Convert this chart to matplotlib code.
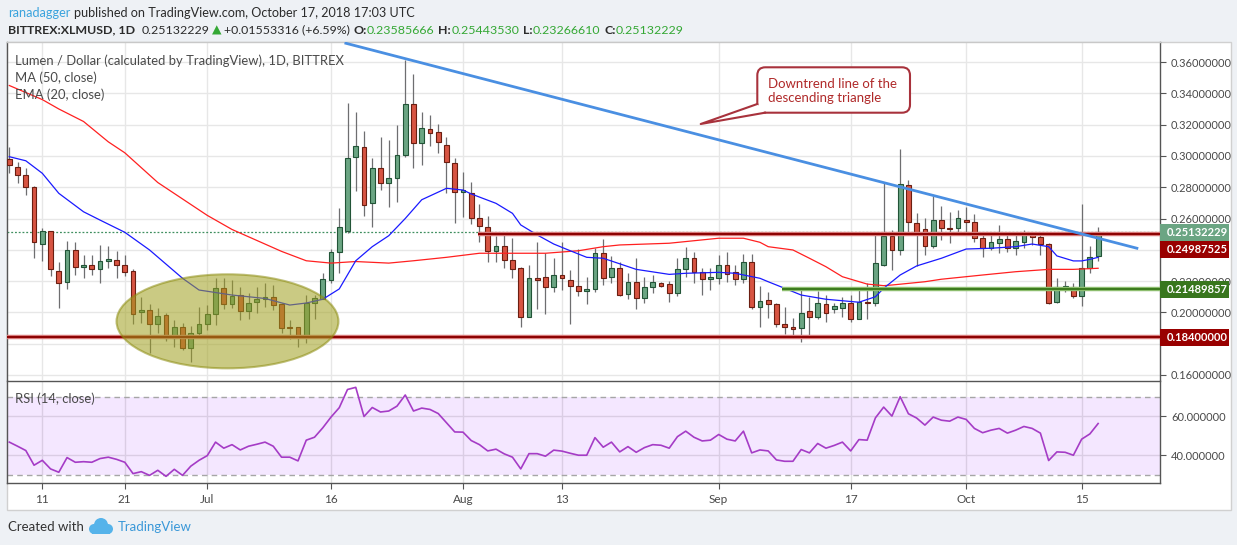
import matplotlib
matplotlib.use("Agg")
import matplotlib.pyplot as plt
import matplotlib.patches as mpatches
import matplotlib.transforms as mtransforms
import numpy as np

plt.rcParams["font.family"] = ["Lato", "DejaVu Sans"]

W, H = 1237, 545

# daily XLM/USD candles, 2018-06-07 .. 2018-10-17 (index 0 = Jun 7)
opens = [
    0.298, 0.293, 0.288, 0.280, 0.2435, 0.252, 0.2267, 0.2193, 0.240, 0.229,
    0.230, 0.228, 0.2327, 0.2333, 0.230, 0.2263, 0.2005, 0.2013, 0.1928, 0.1981,
    0.1834, 0.1905, 0.1771, 0.1867,
    0.1924, 0.1988, 0.2154, 0.2052, 0.2113, 0.2009, 0.2065, 0.2084, 0.210, 0.2052,
    0.1907, 0.1907, 0.1841, 0.2058, 0.2084, 0.2207, 0.2389, 0.2522, 0.2991, 0.3055,
    0.2697, 0.292, 0.283, 0.2857, 0.3004, 0.3332, 0.308, 0.317, 0.3151, 0.3068, 0.2953,
    0.2771, 0.2761, 0.2601, 0.2548, 0.2394, 0.2426, 0.2333, 0.2282, 0.1973, 0.222,
    0.2224, 0.216, 0.2237, 0.2207, 0.2171, 0.2139, 0.2148, 0.2378, 0.2224, 0.2282,
    0.2116, 0.2192, 0.209, 0.216, 0.2186, 0.2179, 0.2122, 0.2275, 0.2346, 0.2258, 0.2215,
    0.2218, 0.2303, 0.2258, 0.2211, 0.232, 0.2033, 0.2077, 0.2052, 0.1924, 0.1905,
    0.1898, 0.2007, 0.1969, 0.2052, 0.2021, 0.2026, 0.2058, 0.1956, 0.2068, 0.2058,
    0.2303, 0.2488, 0.2396, 0.2814, 0.257, 0.2531, 0.2426, 0.259, 0.2541, 0.2537,
    0.259, 0.2576, 0.2474, 0.2414, 0.2445, 0.2467, 0.241, 0.2448, 0.2501, 0.248,
    0.2435, 0.2065, 0.2156, 0.2164, 0.2107, 0.2282, 0.23585666,
]
highs = [
    0.306, 0.296, 0.292, 0.281, 0.254, 0.252, 0.232, 0.2456, 0.245, 0.2367,
    0.2367, 0.243, 0.2425, 0.239, 0.237, 0.228, 0.2098, 0.2056, 0.2027, 0.1998,
    0.195, 0.193, 0.1913, 0.2037,
    0.2047, 0.2218, 0.222, 0.2207, 0.2164, 0.2122, 0.2164, 0.219, 0.2175, 0.2058,
    0.1952, 0.1907, 0.2111, 0.2111, 0.225, 0.2405, 0.2665, 0.3336, 0.3283, 0.316,
    0.2985, 0.3123, 0.310, 0.320, 0.361, 0.3523, 0.328, 0.3261, 0.3204, 0.3119, 0.2985,
    0.2895, 0.2831, 0.2691, 0.2618, 0.2489, 0.2499, 0.2473, 0.2292, 0.2303, 0.2452,
    0.2378, 0.2346, 0.245, 0.2271, 0.2403, 0.2228, 0.241, 0.2469, 0.236, 0.2324,
    0.2254, 0.2346, 0.2228, 0.2237, 0.2196, 0.2203, 0.2346, 0.242, 0.2388, 0.2286, 0.2286,
    0.2367, 0.2384, 0.2303, 0.2373, 0.2373, 0.2169, 0.2132, 0.2062, 0.2033, 0.1962,
    0.2148, 0.21, 0.2137, 0.2111, 0.2062, 0.2097, 0.2111, 0.2151, 0.2186, 0.2495,
    0.2825, 0.2527, 0.3044, 0.2846, 0.2637, 0.2601, 0.2744, 0.268, 0.2644, 0.2655,
    0.2676, 0.2627, 0.2505, 0.2505, 0.2559, 0.2505, 0.2499, 0.2527, 0.2516, 0.2499,
    0.2441, 0.2218, 0.22, 0.219, 0.2693, 0.2424, 0.2544353,
]
lows = [
    0.289, 0.283, 0.275, 0.235, 0.233, 0.223, 0.203, 0.215, 0.224, 0.222,
    0.2236, 0.219, 0.2286, 0.222, 0.2235, 0.1928, 0.1934, 0.1743, 0.1867, 0.1817,
    0.178, 0.176, 0.168, 0.185,
    0.1888, 0.192, 0.202, 0.2026, 0.1952, 0.1956, 0.1994, 0.2037, 0.2015, 0.1867,
    0.1828, 0.1781, 0.1803, 0.1956, 0.2084, 0.2186, 0.225, 0.2505, 0.2778, 0.2618,
    0.2548, 0.2782, 0.2675, 0.2708, 0.299, 0.2925, 0.2942, 0.3065, 0.3017, 0.2765, 0.257,
    0.2612, 0.2563, 0.2452, 0.2324, 0.2324, 0.2286, 0.2218, 0.1905, 0.197, 0.202,
    0.199, 0.2129, 0.2143, 0.1926, 0.2105, 0.2054, 0.2133, 0.2175, 0.219, 0.2105,
    0.2084, 0.202, 0.2062, 0.2126, 0.216, 0.2069, 0.2105, 0.2228, 0.219, 0.2111, 0.2143,
    0.2181, 0.2196, 0.2175, 0.219, 0.202, 0.1905, 0.1962, 0.1905, 0.186, 0.1849,
    0.1809, 0.1845, 0.196, 0.1941, 0.1994, 0.1969, 0.1941, 0.1956, 0.1956, 0.2041,
    0.2296, 0.2271, 0.2367, 0.2516, 0.2296, 0.2367, 0.241, 0.2463, 0.2442, 0.2505,
    0.2505, 0.2448, 0.2356, 0.2399, 0.2381, 0.2388, 0.2367, 0.241, 0.2431, 0.2367,
    0.2054, 0.2058, 0.2133, 0.209, 0.2041, 0.2254, 0.2326661,
]
closes = [
    0.294, 0.288, 0.280, 0.245, 0.252, 0.2275, 0.2186, 0.240, 0.229, 0.230,
    0.228, 0.2327, 0.234, 0.230, 0.2257, 0.1988, 0.2013, 0.1924, 0.1975, 0.1834,
    0.1905, 0.1771, 0.1867, 0.1924,
    0.1988, 0.2154, 0.2052, 0.2103, 0.2009, 0.2058, 0.2084, 0.210, 0.2047, 0.1898,
    0.1898, 0.1841, 0.2058, 0.209, 0.2211, 0.2385, 0.2544, 0.2985, 0.3066, 0.2685,
    0.292, 0.283, 0.2856, 0.3005, 0.3332, 0.308, 0.3176, 0.3148, 0.3087, 0.2959, 0.2771,
    0.2782, 0.2601, 0.2552, 0.2394, 0.2426, 0.2335, 0.2275, 0.1973, 0.2218, 0.2209,
    0.216, 0.2237, 0.2218, 0.2171, 0.2139, 0.2149, 0.2378, 0.2218, 0.2282, 0.2111,
    0.2192, 0.209, 0.216, 0.2192, 0.2171, 0.2126, 0.2275, 0.2346, 0.226, 0.2215, 0.2224,
    0.2303, 0.2243, 0.2211, 0.232, 0.2032, 0.2073, 0.2052, 0.1924, 0.1905, 0.1894,
    0.1994, 0.1969, 0.2058, 0.1998, 0.2043, 0.2058, 0.1956, 0.2068, 0.2058, 0.2314,
    0.2488, 0.2396, 0.2819, 0.258, 0.2516, 0.2426, 0.259, 0.2537, 0.2533, 0.2601,
    0.2576, 0.2474, 0.241, 0.2448, 0.2467, 0.241, 0.2455, 0.2501, 0.248, 0.2435,
    0.2062, 0.216, 0.2169, 0.2107, 0.2282, 0.2357, 0.25132229,
]

ma_days = [0, 4, 6, 9, 12, 14, 18, 22, 24, 27, 30, 33, 36, 39, 42, 46, 49, 53, 57, 65,
           69, 72, 74, 80, 83, 86, 89, 91, 92, 95, 97, 99, 101, 104, 106, 107, 111, 113,
           118, 122, 126, 129, 132]
ma_vals = [0.345, 0.336, 0.330, 0.322, 0.309, 0.302, 0.283, 0.269, 0.262, 0.253,
           0.246, 0.239, 0.233, 0.2315, 0.2325, 0.2315, 0.233, 0.2352, 0.2378, 0.2378,
           0.2394, 0.242, 0.2431, 0.2442, 0.2458, 0.2474, 0.2474, 0.2448, 0.242, 0.2399,
           0.2346, 0.2292, 0.2228, 0.2181, 0.2171, 0.2175, 0.2196, 0.2212, 0.2239, 0.226,
           0.2275, 0.2275, 0.2282]
ema_days = [0, 2, 4, 6, 9, 11, 14, 17, 21, 23, 27, 31, 34, 36, 38, 40, 42, 44, 46, 48,
            50, 53, 55, 56, 59, 61, 62, 64, 66, 68, 70, 72, 76, 80, 82, 86, 88, 91, 92, 94,
            96, 99, 103, 105, 106, 108, 110, 113, 116, 119, 122, 124, 126, 127, 129, 130,
            131, 132]
ema_vals = [0.2995, 0.2969, 0.2889, 0.2761, 0.2643, 0.259, 0.2512, 0.2399, 0.2218, 0.2143,
            0.2111, 0.2089, 0.2047, 0.2060, 0.2084, 0.2150, 0.2330, 0.2420, 0.2490, 0.2600,
            0.2720, 0.2793, 0.2782, 0.2757, 0.2697, 0.2633, 0.2559, 0.2495, 0.2437, 0.2394,
            0.2352, 0.2346, 0.2275, 0.2243, 0.2250, 0.2256, 0.2250, 0.2218, 0.2196, 0.2154,
            0.2111, 0.2084, 0.2065, 0.2100, 0.2154, 0.2239, 0.2297, 0.2346, 0.2405, 0.2410,
            0.2420, 0.2437, 0.2420, 0.2361, 0.2329, 0.2329, 0.2339, 0.2352]

# RSI(14) for every day
rsi = [
    46.7, 44.6, 42.4, 34.9, 37.4, 33.0, 31.3, 38.8, 36.4, 36.7,
    36.4, 38.3, 39.0, 37.9, 36.4, 30.6, 31.6, 29.7, 32.3, 29.2,
    32.8, 29.7, 34.4, 37.4, 39.8, 46.7, 43.6, 45.4, 42.7, 44.6,
    45.6, 46.7, 44.6, 39.0, 39.0, 37.1, 47.7, 49.2, 54.0, 59.5,
    64.3, 73.6, 74.7, 59.8, 64.4, 62.1, 62.6, 65.1, 70.8, 62.6,
    64.1, 63.4, 61.3, 56.6, 51.9, 51.8, 47.5, 45.4, 42.2, 43.1,
    40.7, 39.0, 33.0, 40.8, 40.8, 39.5, 42.6, 42.1, 41.0, 40.0,
    40.0, 49.0, 44.1, 46.7, 41.7, 44.4, 41.5, 43.9, 45.4, 45.1,
    43.6, 49.5, 52.3, 49.2, 47.3, 47.7, 50.6, 48.2, 47.3, 52.3,
    41.2, 42.7, 42.2, 37.6, 36.9, 36.9, 42.9, 41.2, 46.0, 43.6,
    45.0, 46.7, 42.2, 48.0, 47.7, 59.1, 64.6, 60.0, 69.9, 61.2,
    59.0, 55.4, 59.5, 57.9, 57.4, 59.5, 58.3, 53.7, 51.5, 52.8,
    53.7, 51.3, 52.8, 54.7, 53.7, 51.3, 37.3, 41.7, 41.5, 40.0,
    48.2, 50.9, 56.2,
]

xtick_days = [4, 14, 24, 39, 55, 67, 86, 102, 116, 130]
xtick_labels = ["11", "21", "Jul", "16", "Aug", "13", "Sep", "17", "Oct", "15"]
price_ticks = [0.16, 0.18, 0.20, 0.22, 0.24, 0.26, 0.28, 0.30, 0.32, 0.34, 0.36]
hidden_ticks = [0.18, 0.24]   # covered by the level labels on the scale
rsi_ticks = [40, 60]

last_price = 0.25132229
resistance = 0.24987525
resistance_from = 56.8
support = 0.21489857
support_from = 93.7
floor_level = 0.184
trend_days = [40.8, 136.7]
trend_prices = [0.372, 0.241]

GREEN_FC, GREEN_EC = "#6ba583", "#225437"
RED_FC, RED_EC = "#d75442", "#6b1e11"
TXT = "#4a4a4a"

fig = plt.figure(figsize=(W / 100, H / 100), dpi=100)
fig.patch.set_facecolor("#eef1f5")
pix = mtransforms.Affine2D().scale(1 / W, -1 / H).translate(0, 1) + fig.transFigure

frame = mpatches.Rectangle((7, 42), 1224, 468, transform=pix, fc="white",
                           ec="#d0d0d0", lw=1, zorder=-1)
fig.add_artist(frame)

L, R = 7, 1160
ax = fig.add_axes([L / W, 1 - 380 / H, (R - L) / W, (380 - 42) / H])
rax = fig.add_axes([L / W, 1 - 483 / H, (R - L) / W, (483 - 380.5) / H], sharex=ax)

x = np.arange(len(closes))
o = np.array(opens); c = np.array(closes)
up = c >= o
fc = np.where(up, GREEN_FC, RED_FC)
ec = np.where(up, GREEN_EC, RED_EC)

ax.vlines(x, lows, highs, color="#6e6e70", lw=0.9, zorder=2)
ax.bar(x, np.maximum(np.abs(c - o), 0.0007), bottom=np.minimum(o, c), width=0.58,
       color=fc, edgecolor=ec, linewidth=0.8, zorder=3)

ax.plot(ma_days, ma_vals, color="#ff2020", lw=0.9, zorder=4)
ax.plot(ema_days, ema_vals, color="#1a1aff", lw=0.9, zorder=4)

# horizontal levels
ax.axhline(last_price, color="#3f8f5f", lw=0.9, ls=(0, (1.5, 1.5)), zorder=1.5)
for lvl, start, outer, inner in [(floor_level, -1, "#d77a7a", "#8b0000"),
                                 (resistance, resistance_from, "#d77a7a", "#8b0000"),
                                 (support, support_from, "#8dbd6e", "#3a7a1c")]:
    ax.plot([start, 140], [lvl, lvl], color=outer, lw=3.2, zorder=4, solid_capstyle="butt")
    ax.plot([start, 140], [lvl, lvl], color=inner, lw=1.4, zorder=4, solid_capstyle="butt")

ax.plot(trend_days, trend_prices, color="#4a8fe2", lw=2, zorder=5)

ell = mpatches.Ellipse((26.45, 0.1943), 26.9, 0.0601, fc="#a0a01e", alpha=0.55,
                       ec="#8c8c10", lw=1.5, zorder=6)
ax.add_patch(ell)

ax.set_xlim(-0.28, 139.5)
ax.set_ylim(0.1568, 0.3728)
ax.set_yticks(price_ticks)
ax.set_yticklabels(["" if any(abs(v - h) < 1e-9 for h in hidden_ticks) else "%.8f" % v
                    for v in price_ticks])
ax.set_xticks(xtick_days)
ax.grid(True, color="#e7e7e7", lw=1)
ax.set_axisbelow(True)
ax.tick_params(axis="y", left=False, right=True, labelleft=False, labelright=True,
               length=4, color="#555555", labelsize=8, labelcolor=TXT, pad=4)
ax.tick_params(axis="x", length=0, labelbottom=False)
for side, sp in ax.spines.items():
    sp.set_color("#555555" if side != "top" else "#c8c8c8")
    sp.set_linewidth(1)
ax.spines["bottom"].set_visible(False)

# price labels on the right scale
bt = mtransforms.blended_transform_factory(fig.transFigure, ax.transData)
box_h = 17 * (0.3728 - 0.1568) / 338
labels = [(last_price, GREEN_FC, last_price),
          (resistance, "#990000", last_price - box_h),
          (support, "#38761d", support),
          (floor_level, "#990000", floor_level)]
for val, col, yc in labels:
    ax.add_patch(mpatches.Rectangle((R / W, yc - box_h / 2), 69 / W, box_h, transform=bt,
                                    fc=col, ec="none", clip_on=False, zorder=10))
    ax.text(1167 / W, yc, "%.8f" % val, transform=bt, color="white", fontsize=8,
            fontweight="bold", va="center", ha="left", clip_on=False, zorder=11)

# RSI panel
rax.axhspan(30, 70, fc="#9915ff", alpha=0.1, lw=0, zorder=1)
for lvl in (30, 70):
    rax.axhline(lvl, color="#a6a6a6", lw=1, ls=(0, (4, 3)), zorder=1.5)
rax.plot(x, rsi, color="#a53cc6", lw=1.2, zorder=3)
rax.set_ylim(25.8, 78.2)
rax.set_yticks(rsi_ticks)
rax.set_yticklabels(["%.6f" % v for v in rsi_ticks])
rax.set_xticks(xtick_days)
rax.set_xticklabels(xtick_labels)
rax.grid(True, color="#e2e2e2", lw=1)
rax.set_axisbelow(True)
rax.tick_params(axis="y", left=False, right=True, labelleft=False, labelright=True,
                length=4, color="#555555", labelsize=8, labelcolor=TXT, pad=4)
rax.tick_params(axis="x", length=4, color="#555555", labelsize=8.5, labelcolor=TXT, pad=4)
for sp in rax.spines.values():
    sp.set_color("#555555")
    sp.set_linewidth(1)

# legend texts inside the panels
fig.text(15 / W, 1 - 61 / H, "Lumen / Dollar (calculated by TradingView), 1D, BITTREX",
         color=TXT, fontsize=9.4, va="center")
fig.text(15 / W, 1 - 78 / H, "MA (50, close)", color=TXT, fontsize=9.4, va="center")
fig.text(15 / W, 1 - 95 / H, "EMA (20, close)", color=TXT, fontsize=9.4, va="center")
fig.text(15 / W, 1 - 399 / H, "RSI (14, close)", color=TXT, fontsize=9.4, va="center")

# callout box
pts_tip = [(757.3, 104), (700.7, 124), (765, 112.7)]
box = mpatches.FancyBboxPatch((757.3, 67.3), 152.7, 45.4, transform=pix,
                              boxstyle="round,pad=0,rounding_size=8",
                              fc="white", ec="#a8323c", lw=1.5, zorder=7)
fig.add_artist(box)
fig.add_artist(mpatches.Polygon(pts_tip, closed=True, transform=pix, fc="white",
                                ec="none", zorder=7.5))
fig.add_artist(plt.Line2D([p[0] for p in pts_tip], [p[1] for p in pts_tip],
                          transform=pix, color="#a8323c", lw=1.5, zorder=8))
fig.text(768 / W, 1 - 84 / H, "Downtrend line of the", color="#b02a2a", fontsize=9.5,
         va="center", zorder=9)
fig.text(768 / W, 1 - 97.5 / H, "descending triangle", color="#b02a2a", fontsize=9.5,
         va="center", zorder=9)

# header / footer runs of text
renderer = fig.canvas.get_renderer()


def text_run(x0, y0, parts, size):
    xp = x0
    for s, color, weight, gap in parts:
        xp += gap
        t = fig.text(xp / W, 1 - y0 / H, s, fontsize=size, color=color,
                     fontweight=weight, ha="left", va="center")
        xp += t.get_window_extent(renderer).width
    return xp


DARK = "#2b2b2b"
UPG = "#34a834"
text_run(8, 13, [("ranadagger", "#3aa3dd", "normal", 0),
                 ("published on TradingView.com, October 17, 2018 17:03 UTC", DARK, "normal", 3.5)], 9.1)
text_run(8, 30, [("BITTREX:XLMUSD, 1D", DARK, "bold", 0),
                 ("0.25132229", DARK, "normal", 6),
                 ("\u25b2", UPG, "normal", 3),
                 ("+0.01553316 (+6.59%)", DARK, "normal", 2),
                 ("O:", DARK, "bold", 4), ("0.23585666", UPG, "normal", 0),
                 ("H:", DARK, "bold", 4), ("0.25443530", UPG, "normal", 0),
                 ("L:", DARK, "bold", 4), ("0.23266610", UPG, "normal", 0),
                 ("C:", DARK, "bold", 4), ("0.25132229", UPG, "normal", 0)], 8.9)

text_run(8, 527, [("Created with", "#333333", "normal", 0)], 9.5)
for cx, cy, r in [(94, 529, 5), (101, 525, 7), (108, 529, 5)]:
    fig.add_artist(mpatches.Circle((cx, cy), r, transform=pix, fc="#55b3ea", ec="none"))
fig.add_artist(mpatches.Rectangle((92, 528), 18, 6, transform=pix, fc="#55b3ea", ec="none"))
text_run(118, 527, [("TradingView", "#3a98d8", "normal", 0)], 9.5)

fig.savefig("out.png", dpi=100, facecolor=fig.get_facecolor())
